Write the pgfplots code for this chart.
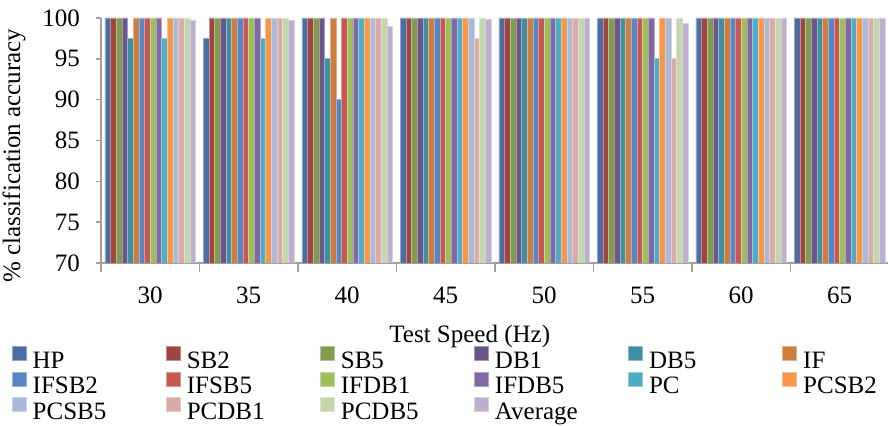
\documentclass[border=0pt]{standalone}
\usepackage{pgfplots}
\pgfplotsset{compat=1.18}
\usepackage{pgfplotstable}
\usepackage{fontspec}
\setmainfont{Liberation Serif}
\definecolor{cHP}{HTML}{4A6EA3}
\definecolor{cSBb}{HTML}{A04442}
\definecolor{cSBe}{HTML}{829C4E}
\definecolor{cDBa}{HTML}{6B5589}
\definecolor{cDBe}{HTML}{3E8FA4}
\definecolor{cIF}{HTML}{CD7D3D}
\definecolor{cIFSBb}{HTML}{5686C4}
\definecolor{cIFSBe}{HTML}{C65754}
\definecolor{cIFDBa}{HTML}{9DBE5B}
\definecolor{cIFDBe}{HTML}{8167A6}
\definecolor{cPC}{HTML}{4EACC8}
\definecolor{cPCSBb}{HTML}{F79747}
\definecolor{cPCSBe}{HTML}{AAB9D8}
\definecolor{cPCDBa}{HTML}{DBA9A8}
\definecolor{cPCDBe}{HTML}{C6D6AC}
\definecolor{cAvg}{HTML}{BCB0CC}
\definecolor{axgray}{HTML}{A0A0A0}
\pgfplotstableread{
x HP SBb SBe DBa DBe IF IFSBb IFSBe IFDBa IFDBe PC PCSBb PCSBe PCDBa PCDBe Avg
0 100 100 100 100 97.5 100 100 100 100 100 97.5 100 100 100 100 99.67
1 97.5 100 100 100 100 100 100 100 100 100 97.5 100 100 100 100 99.67
2 100 100 100 100 95 100 90 100 100 100 100 100 100 100 100 99.0
3 100 100 100 100 100 100 100 100 100 100 100 100 100 97.5 100 99.83
4 100 100 100 100 100 100 100 100 100 100 100 100 100 100 100 100
5 100 100 100 100 100 100 100 100 100 100 95 100 100 95 100 99.33
6 100 100 100 100 100 100 100 100 100 100 100 100 100 100 100 100
7 100 100 100 100 100 100 100 100 100 100 100 100 100 100 100 100
}\data
\newcommand{\fnt}{\fontsize{12.5}{15}\selectfont}
\newcommand{\lt}[1]{\makebox[66.7pt][l]{\rule[-2pt]{0pt}{13.25pt}#1}}
\pgfplotsset{bs/.style={fill=#1, draw=#1!60!white, line width=0.35pt,
  legend image code/.code={\fill[fill=#1] (0pt,-0.85pt) rectangle (7pt,6.15pt);}}}
\begin{document}
\begin{tikzpicture}
\begin{axis}[name=ax, scale only axis, width=394pt, height=122.5pt,
  ymin=70, ymax=100, xmin=-0.5, xmax=7.5,
  ybar=0pt, bar width=2.835pt,
  axis x line*=bottom, axis y line*=left,
  axis line style={color=axgray, line width=0.75pt},
  ytick={70,75,...,100},
  xtick={0,...,7}, xticklabels={30,35,40,45,50,55,60,65},
  minor xtick={-0.5,0.5,...,7.5},
  tick align=outside,
  major tick length=2.5pt, minor tick length=4.5pt,
  tick style={color=axgray, line width=0.75pt},
  major x tick style={draw=none},
  /pgf/number format/assume math mode=true,
  tick label style={font=\fnt},
  yticklabel style={xshift=-4.5pt},
  xticklabel style={yshift=-5.8pt},
  label style={font=\fnt},
  xlabel={Test Speed (Hz)},
  xlabel style={at={(axis description cs:0.468,0)}, anchor=center, yshift=-36.5pt},
  ylabel={\% classification accuracy},
  ylabel style={at={(axis description cs:-0.1105,0.438)}, anchor=center},
  legend style={draw=none, fill=none, at={(rel axis cs:0,0)}, anchor=north west,
    xshift=-44.5pt, yshift=-41.5pt, font=\fnt, inner sep=0pt, outer sep=0pt,
    row sep=0pt, column sep=0pt, nodes={inner sep=0pt},
    /tikz/every odd column/.append style={column sep=3pt}},
  legend columns=6, legend cell align=left,
]
\addplot[bs=cHP] table[x=x,y=HP]{\data};
\addplot[bs=cSBb] table[x=x,y=SBb]{\data};
\addplot[bs=cSBe] table[x=x,y=SBe]{\data};
\addplot[bs=cDBa] table[x=x,y=DBa]{\data};
\addplot[bs=cDBe] table[x=x,y=DBe]{\data};
\addplot[bs=cIF] table[x=x,y=IF]{\data};
\addplot[bs=cIFSBb] table[x=x,y=IFSBb]{\data};
\addplot[bs=cIFSBe] table[x=x,y=IFSBe]{\data};
\addplot[bs=cIFDBa] table[x=x,y=IFDBa]{\data};
\addplot[bs=cIFDBe] table[x=x,y=IFDBe]{\data};
\addplot[bs=cPC] table[x=x,y=PC]{\data};
\addplot[bs=cPCSBb] table[x=x,y=PCSBb]{\data};
\addplot[bs=cPCSBe] table[x=x,y=PCSBe]{\data};
\addplot[bs=cPCDBa] table[x=x,y=PCDBa]{\data};
\addplot[bs=cPCDBe] table[x=x,y=PCDBe]{\data};
\addplot[bs=cAvg] table[x=x,y=Avg]{\data};
\legend{\lt{HP},\lt{SB2},\lt{SB5},\lt{DB1},\lt{DB5},\lt{IF},\lt{IFSB2},\lt{IFSB5},\lt{IFDB1},\lt{IFDB5},\lt{PC},\lt{PCSB2},\lt{PCSB5},\lt{PCDB1},\lt{PCDB5},\lt{Average}}
\end{axis}
\pgfresetboundingbox
\path ([shift={(-50.5pt,-81.5pt)}]ax.south west) rectangle ([shift={(393.5pt,131.5pt)}]ax.south west);
\end{tikzpicture}
\end{document}
